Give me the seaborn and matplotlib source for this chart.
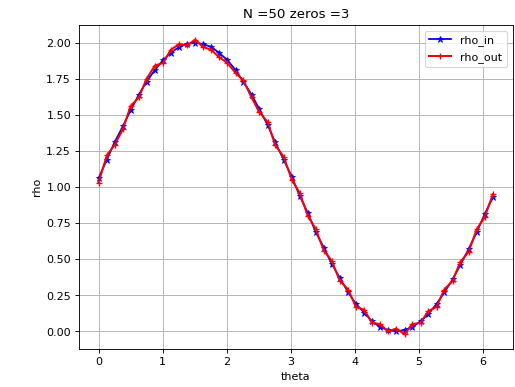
import matplotlib
matplotlib.use("Agg")
import matplotlib.pyplot as plt
import seaborn as sns

# 数据
theta = [0.00, 0.13, 0.25, 0.38, 0.50, 0.63, 0.75, 0.88, 1.01, 1.13,
         1.26, 1.38, 1.51, 1.63, 1.76, 1.88, 2.01, 2.14, 2.26, 2.39,
         2.51, 2.64, 2.76, 2.89, 3.02, 3.14, 3.27, 3.39, 3.52, 3.64,
         3.77, 3.90, 4.02, 4.15, 4.27, 4.40, 4.52, 4.65, 4.78, 4.90,
         5.03, 5.15, 5.28, 5.40, 5.53, 5.65, 5.78, 5.91, 6.03, 6.16]

rho_in = [1.06, 1.19, 1.31, 1.42, 1.53, 1.64, 1.73, 1.81, 1.88, 1.93,
          1.97, 1.99, 2.00, 1.99, 1.97, 1.93, 1.88, 1.81, 1.73, 1.64,
          1.54, 1.43, 1.31, 1.19, 1.07, 0.94, 0.82, 0.69, 0.58, 0.47,
          0.37, 0.27, 0.19, 0.13, 0.07, 0.03, 0.01, 0.00, 0.01, 0.03,
          0.07, 0.12, 0.19, 0.27, 0.36, 0.46, 0.57, 0.69, 0.81, 0.93]

rho_out = [1.03, 1.22, 1.29, 1.40, 1.56, 1.62, 1.75, 1.84, 1.86, 1.95,
           1.99, 1.98, 2.02, 1.97, 1.95, 1.90, 1.86, 1.79, 1.74, 1.62,
           1.52, 1.45, 1.29, 1.21, 1.05, 0.96, 0.80, 0.71, 0.56, 0.49,
           0.35, 0.29, 0.17, 0.15, 0.06, 0.05, 0.00, 0.02, -0.02, 0.05,
           0.06, 0.14, 0.17, 0.29, 0.35, 0.48, 0.55, 0.71, 0.79, 0.95]

fig, ax = plt.subplots(figsize=(6.4, 4.81), dpi=80.5)

sns.lineplot(x=theta, y=rho_in, color="b", marker="*", markersize=6,
             markeredgecolor="b", linewidth=1.6, label="rho_in", ax=ax)
sns.lineplot(x=theta, y=rho_out, color="r", marker="+", markersize=6,
             markeredgecolor="r", markeredgewidth=1.2, linewidth=1.8,
             label="rho_out", ax=ax)

ax.set_title("N =50 zeros =3")
ax.set_xlabel("theta")
ax.set_ylabel("rho")
ax.grid(True)
ax.legend(loc="upper right")

plt.subplots_adjust(left=0.153, right=0.995, top=0.935, bottom=0.098)
plt.savefig("out.png", dpi=80.5)
